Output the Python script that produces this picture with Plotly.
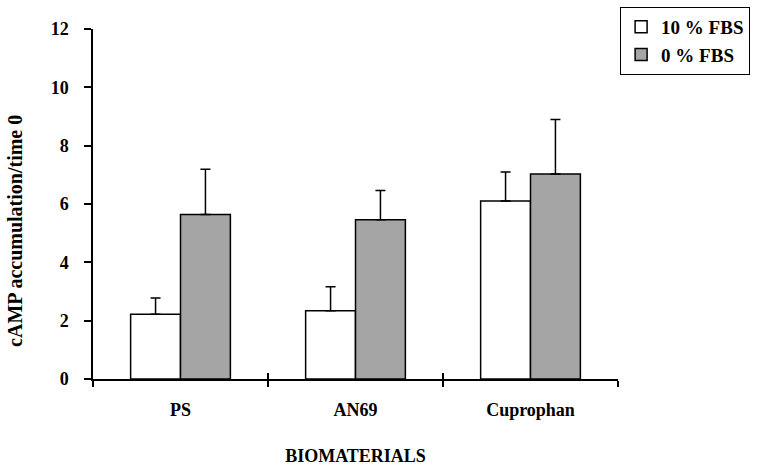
import plotly.graph_objects as go

categories = ["PS", "AN69", "Cuprophan"]
fbs10 = [2.22, 2.34, 6.10]
fbs10_err = [0.56, 0.82, 1.00]
fbs0 = [5.64, 5.46, 7.03]
fbs0_err = [1.55, 1.00, 1.87]
series_names = ["10 % FBS", "0 % FBS"]
y_ticks = [0, 2, 4, 6, 8, 10, 12]
y_title = "cAMP accumulation/time 0"
x_title = "BIOMATERIALS"

FONT = "Liberation Serif"

fig = go.Figure()
fig.add_trace(go.Bar(
    x=categories, y=fbs10, name=series_names[0],
    marker=dict(color="white", line=dict(color="black", width=1.5)),
    error_y=dict(type="data", array=fbs10_err, arrayminus=[0]*3, symmetric=False,
                 color="black", thickness=1.5, width=5),
))
fig.add_trace(go.Bar(
    x=categories, y=fbs0, name=series_names[1],
    marker=dict(color="#a5a5a5", line=dict(color="black", width=1.5)),
    error_y=dict(type="data", array=fbs0_err, arrayminus=[0]*3, symmetric=False,
                 color="black", thickness=1.5, width=5),
))
# helper trace for inner ticks on overlay axis
fig.add_trace(go.Scatter(x=categories, y=[0]*3, xaxis="x2", mode="markers",
                         marker=dict(opacity=0), showlegend=False, hoverinfo="skip"))

fig.update_layout(
    width=758, height=466,
    margin=dict(l=93, r=140, t=29, b=87, autoexpand=False),
    paper_bgcolor="white", plot_bgcolor="white",
    barmode="group", bargap=0.43, bargroupgap=0,
    font=dict(family=FONT, size=18, color="black", weight="bold"),
    showlegend=True,
    legend=dict(x=1.004, xanchor="left", y=1.063, yanchor="top",
                bgcolor="white", bordercolor="black", borderwidth=1,
                font=dict(family=FONT, size=19, color="black", weight="bold"),
                tracegroupgap=0, itemwidth=30),
    xaxis=dict(
        type="category", categoryarray=categories, range=[-0.5, 2.5],
        showline=True, linecolor="black", linewidth=1.5,
        ticks="outside", tickson="boundaries", ticklen=6, tickwidth=1.5, tickcolor="black",
        ticklabelstandoff=14,
        showgrid=False, zeroline=False, automargin=False,
        title=dict(text=x_title, standoff=30,
                   font=dict(family=FONT, size=18, weight="bold")),
        tickfont=dict(family=FONT, size=18, weight="bold"),
    ),
    xaxis2=dict(
        type="category", categoryarray=categories, range=[-0.5, 2.5],
        overlaying="x", side="bottom", anchor="y",
        ticks="inside", tickson="boundaries", ticklen=6, tickwidth=1.5, tickcolor="black",
        showticklabels=False, showgrid=False, zeroline=False, showline=False,
    ),
    yaxis=dict(
        range=[0, 12], tickvals=y_ticks, ticktext=[str(v) for v in y_ticks],
        showline=True, linecolor="black", linewidth=1.5,
        ticks="outside", ticklen=7, tickwidth=1.5, tickcolor="black",
        ticklabelstandoff=12, automargin=False,
        showgrid=False, zeroline=False,
        tickfont=dict(family=FONT, size=18, weight="bold"),
    ),
    annotations=[dict(
        text=y_title, textangle=-90, xref="paper", yref="paper",
        x=-0.1486, y=0.423, xanchor="center", yanchor="middle", showarrow=False,
        font=dict(family=FONT, size=20, color="black", weight="bold"),
    )],
)

fig.write_html("out.html")
